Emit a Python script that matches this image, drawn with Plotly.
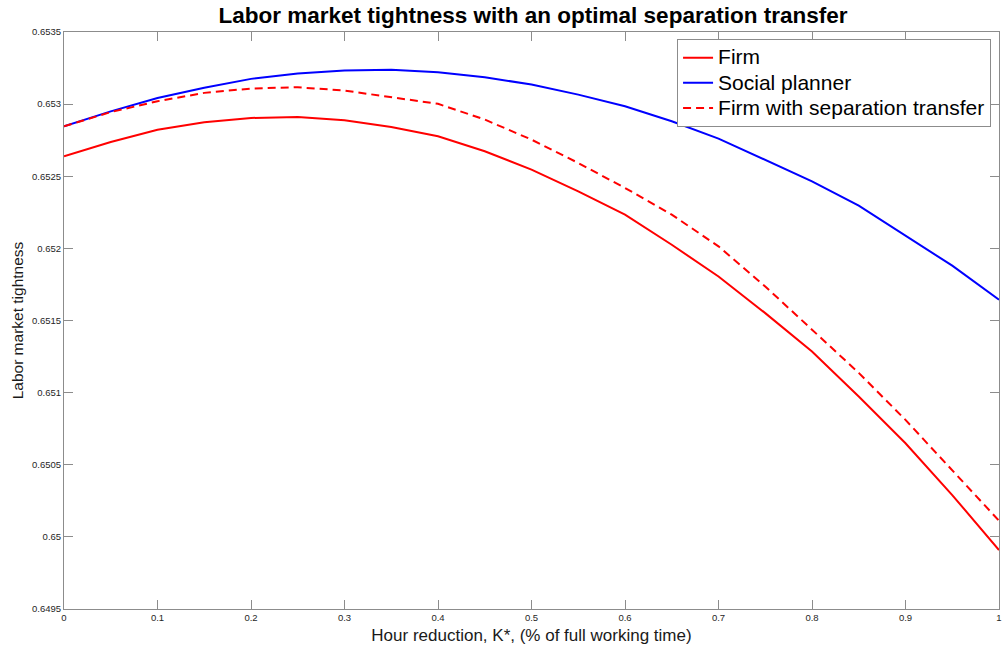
import plotly.graph_objects as go

k_values = [0.00, 0.05, 0.10, 0.15, 0.20, 0.25, 0.30, 0.35, 0.40, 0.45, 0.50,
            0.55, 0.60, 0.65, 0.70, 0.75, 0.80, 0.85, 0.90, 0.95, 1.00]

firm = [0.652638, 0.652738, 0.652823, 0.652874, 0.652904, 0.652911, 0.652888,
        0.652842, 0.652777, 0.652673, 0.652546, 0.652395, 0.652234, 0.652025,
        0.651805, 0.651551, 0.651285, 0.650973, 0.650649, 0.650290, 0.649909]

planner = [0.652846, 0.652950, 0.653043, 0.653113, 0.653175, 0.653212, 0.653233,
           0.653238, 0.653221, 0.653186, 0.653136, 0.653066, 0.652985, 0.652881,
           0.652761, 0.652615, 0.652465, 0.652296, 0.652088, 0.651880, 0.651644]

firm_transfer = [0.652846, 0.652945, 0.653020, 0.653078, 0.653108, 0.653117, 0.653094,
                 0.653050, 0.653002, 0.652893, 0.652754, 0.652592, 0.652419, 0.652234,
                 0.652014, 0.651736, 0.651435, 0.651137, 0.650811, 0.650464, 0.650112]

series_names = ["Firm", "Social planner", "Firm with separation transfer"]

x_ticks = [0, 0.1, 0.2, 0.3, 0.4, 0.5, 0.6, 0.7, 0.8, 0.9, 1]
x_tick_labels = ["0", "0.1", "0.2", "0.3", "0.4", "0.5", "0.6", "0.7", "0.8", "0.9", "1"]
y_ticks = [0.6495, 0.65, 0.6505, 0.651, 0.6515, 0.652, 0.6525, 0.653, 0.6535]
y_tick_labels = ["0.6495", "0.65", "0.6505", "0.651", "0.6515", "0.652", "0.6525", "0.653", "0.6535"]

FONT = "Liberation Sans, Arial, Helvetica, sans-serif"
AXIS_GRAY = "#8c8c8c"


def legend_name(s):
    return "<span style='font-size:21px'>" + s + "</span>"


fig = go.Figure()
fig.add_trace(go.Scatter(x=k_values, y=firm, mode="lines", name=legend_name(series_names[0]),
                         line=dict(color="#ff0000", width=2)))
fig.add_trace(go.Scatter(x=k_values, y=planner, mode="lines", name=legend_name(series_names[1]),
                         line=dict(color="#0000ff", width=2)))
fig.add_trace(go.Scatter(x=k_values, y=firm_transfer, mode="lines",
                         name=legend_name(series_names[2]),
                         line=dict(color="#ff0000", width=2, dash="8px,5px")))

axis_common = dict(
    showline=True, linecolor=AXIS_GRAY, linewidth=1, mirror="ticks",
    ticks="inside", ticklen=9, tickwidth=1, tickcolor=AXIS_GRAY,
    showgrid=False, zeroline=False, ticklabeloverflow="allow",
    tickfont=dict(family=FONT, size=9.5, color="#262626"),
)

fig.update_layout(
    width=1002, height=652,
    margin=dict(l=64, r=0, t=32, b=43),
    paper_bgcolor="white", plot_bgcolor="white",
    font=dict(family=FONT, color="#1a1a1a"),
    title=dict(text="<b>Labor market tightness with an optimal separation transfer</b>",
               font=dict(family=FONT, size=22.5, color="black"),
               x=(64 + 1002) / 2 / 1002, xanchor="center", y=1 - 15 / 652, yanchor="middle"),
    xaxis=dict(range=[0, 1], tickvals=x_ticks, ticktext=x_tick_labels,
               title=dict(text="Hour reduction, K*, (% of full working time)",
                          font=dict(family=FONT, size=17, color="#1a1a1a"), standoff=6),
               **axis_common),
    yaxis=dict(range=[0.6495, 0.6535], tickvals=y_ticks, ticktext=y_tick_labels,
               title=dict(text="Labor market tightness",
                          font=dict(family=FONT, size=15.5, color="#1a1a1a"), standoff=4),
               **axis_common),
    legend=dict(x=0.9915, y=0.9875, xanchor="right", yanchor="top",
                bgcolor="white", bordercolor=AXIS_GRAY, borderwidth=1,
                font=dict(family=FONT, size=17, color="black"),
                itemwidth=30, tracegroupgap=0),
    showlegend=True,
)

fig.write_html("out.html",
               config={"displayModeBar": False},
               post_script="document.body.style.margin='0';document.body.style.overflow='hidden';")
